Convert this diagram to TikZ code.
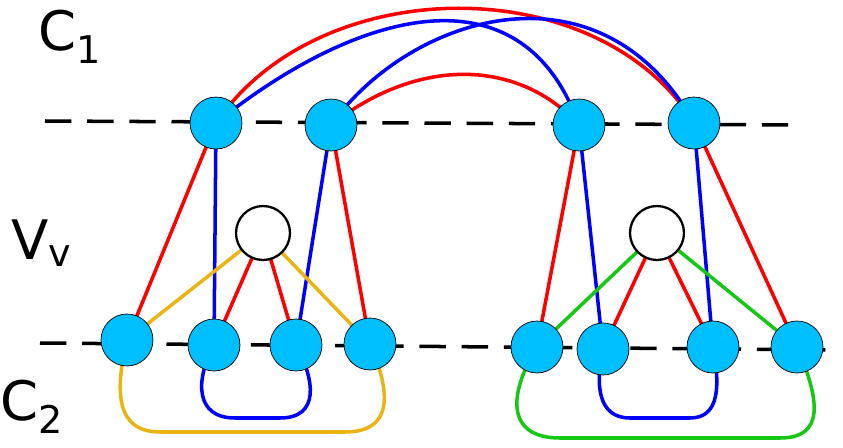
\documentclass[tikz,border=0pt]{standalone}
\usepackage{fontspec}
\setmainfont{DejaVu Sans}
\begin{document}
\begin{tikzpicture}[x=0.02cm,y=-0.02cm,
  vtx/.style={circle,draw=black,fill={rgb,255:red,0;green,191;blue,255},minimum size=1.04cm,inner sep=0pt},
  wv/.style={circle,draw=black,line width=1.3pt,fill=white,minimum size=1.08cm,inner sep=0pt},
  e/.style={line width=2pt},
  lbl/.style={font=\fontsize{31}{31}\selectfont,inner sep=0pt}]
\useasboundingbox (0,0) rectangle (843,447);
\definecolor{cr}{RGB}{255,0,0}\definecolor{cb}{RGB}{0,0,255}
\definecolor{cy}{RGB}{235,180,20}\definecolor{cg}{RGB}{20,200,20}
\draw[line width=2pt,dash pattern=on 15pt off 9pt] (45,121) -- (795,125);
\draw[line width=2pt,dash pattern=on 15pt off 9pt] (40,343) -- (840,350);
\node[lbl] (c1) at (70,37) {C\textsubscript{1}};
\node[lbl] (vv) at (42,243) {V\textsubscript{v}};
\node[lbl] (c2) at (32,407) {C\textsubscript{2}};
\coordinate (A) at (216,123); \coordinate (B) at (331,125);
\coordinate (C) at (579,125); \coordinate (D) at (694,123);
\coordinate (n1) at (127,340); \coordinate (n2) at (214,345);
\coordinate (n3) at (296,345); \coordinate (n4) at (370,344);
\coordinate (n5) at (537,347); \coordinate (n6) at (603,349);
\coordinate (n7) at (713,347); \coordinate (n8) at (797,347);
\coordinate (w1) at (263,233); \coordinate (w2) at (657,233);
% arcs
\draw[e,cr] (A) .. controls (320,-30) and (600,-30) .. (D);
\draw[e,cb] (A) .. controls (350,15) and (520,-40) .. (C);
\draw[e,cb] (B) .. controls (410,15) and (600,-45) .. (D);
\draw[e,cr] (B) .. controls (420,55) and (520,60) .. (C);
% top to bottom
\draw[e,cr] (A) -- (n1); \draw[e,cb] (A) -- (n2);
\draw[e,cb] (B) -- (n3); \draw[e,cr] (B) -- (n4);
\draw[e,cr] (C) -- (n5); \draw[e,cb] (C) -- (n6);
\draw[e,cb] (D) -- (n7); \draw[e,cr] (D) -- (n8);
\draw[e,cy] (w1) -- (n1); \draw[e,cy] (w1) -- (n4);
\draw[e,cr] (w1) -- (n2); \draw[e,cr] (w1) -- (n3);
\draw[e,cg] (w2) -- (n5); \draw[e,cg] (w2) -- (n8);
\draw[e,cr] (w2) -- (n6); \draw[e,cr] (w2) -- (n7);
% loops
\draw[e,cy] (n1) .. controls (115,390) and (115,432) .. (160,432) -- (345,432) .. controls (395,432) and (390,390) .. (n4);
\draw[e,cb] (n2) .. controls (195,380) and (195,418) .. (235,418) -- (280,418) .. controls (320,418) and (315,380) .. (n3);
\draw[e,cg] (n5) .. controls (505,400) and (510,438) .. (560,438) -- (780,438) .. controls (825,438) and (820,400) .. (n8);
\draw[e,cb] (n6) .. controls (595,385) and (598,418) .. (630,418) -- (690,418) .. controls (720,418) and (720,385) .. (n7);
% nodes
\foreach \p in {A,B,C,D,n1,n2,n3,n4,n5,n6,n7,n8} \node[vtx] (v\p) at (\p) {};
\node[wv] (vw1) at (w1) {}; \node[wv] (vw2) at (w2) {};
\end{tikzpicture}
\end{document}
